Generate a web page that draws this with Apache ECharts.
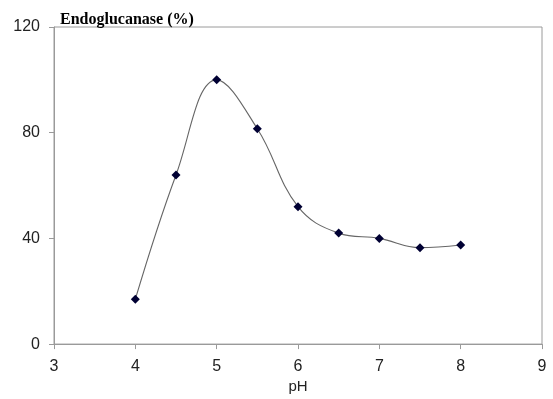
<!DOCTYPE html>
<html>
<head>
<meta charset="utf-8">
<script src="https://cdn.jsdelivr.net/npm/echarts@6/dist/echarts.min.js"></script>
<style>
  html, body { margin: 0; padding: 0; background: #fff; }
  #chart { width: 553px; height: 399px; }
</style>
</head>
<body>
<div id="chart"></div>
<script>
// Endoglucanase relative activity versus pH
const phValues = [4, 4.5, 5, 5.5, 6, 6.5, 7, 7.5, 8];
const activity = [17, 64, 100, 81.5, 52, 42, 40, 36.5, 37.5];
const xTicks = [3, 4, 5, 6, 7, 8, 9];
const yTicks = [0, 40, 80, 120];

const chart = echarts.init(document.getElementById('chart'));

chart.setOption({
  animation: false,
  grid: {
    left: 54, right: 11, top: 27, bottom: 52,
    show: true, borderColor: '#9a9a9a', borderWidth: 1, backgroundColor: 'transparent'
  },
  title: {
    text: 'Endoglucanase (%)',
    left: 55, top: 7,
    textStyle: { fontFamily: 'Liberation Serif', fontWeight: 'bold', fontSize: 16, color: '#000' }
  },
  xAxis: {
    type: 'value',
    min: xTicks[0], max: xTicks[xTicks.length - 1], interval: 1,
    name: 'pH', nameLocation: 'middle', nameGap: 31,
    nameTextStyle: { fontFamily: 'Liberation Sans', fontSize: 15, color: '#222' },
    axisLine: { lineStyle: { color: '#9a9a9a' } },
    axisTick: { length: 5, lineStyle: { color: '#9a9a9a' } },
    axisLabel: { fontFamily: 'Liberation Sans', fontSize: 16, color: '#222', margin: 14 },
    splitLine: { show: false }
  },
  yAxis: {
    type: 'value',
    min: yTicks[0], max: yTicks[yTicks.length - 1], interval: 40,
    axisLine: { show: true, lineStyle: { color: '#9a9a9a' } },
    axisTick: { show: true, length: 5, lineStyle: { color: '#9a9a9a' } },
    axisLabel: { fontFamily: 'Liberation Sans', fontSize: 16, color: '#222', margin: 14 },
    splitLine: { show: false }
  },
  series: [{
    type: 'line',
    data: phValues.map((p, i) => [p, activity[i]]),
    smooth: 0.4,
    symbol: 'diamond',
    symbolSize: 9,
    itemStyle: { color: '#000033' },
    lineStyle: { color: '#666', width: 1.1 }
  }]
});
</script>
</body>
</html>
